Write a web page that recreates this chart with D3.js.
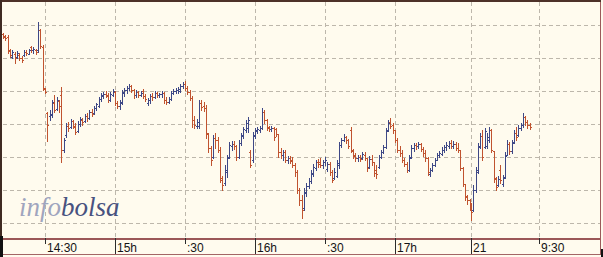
<!DOCTYPE html>
<html><head><meta charset="utf-8">
<script src="https://cdn.jsdelivr.net/npm/d3@7"></script>
<style>html,body{margin:0;padding:0;background:#fffbee;}svg{display:block}</style>
</head><body>
<svg id="c" width="603" height="257"></svg>
<script>
// sessions: consecutive 1-minute bars
const sessionDays = [0, 1];
const sessionStarts = ["14:12", "09:00"];
const sessionCounts = [201, 27];

const openV = [
206,204,203,189,183,186,183,185,182,185,188,186,193,190,190,190,210,193,151,127,
124,125,137,131,139,145,90,105,114,113,119,113,109,116,120,119,124,122,128,127,
132,134,141,144,146,145,140,145,148,137,134,137,147,150,152,154,150,145,148,145,
149,144,137,140,144,143,147,145,146,147,140,138,141,147,149,150,149,154,156,152,
148,142,120,114,114,137,134,132,106,92,83,102,100,90,60,57,68,83,94,96,
94,83,97,104,110,112,88,80,104,109,110,112,128,120,112,111,112,111,106,88,
85,88,80,82,80,75,68,50,40,32,47,54,59,66,72,78,78,75,78,71,
76,68,62,64,75,95,100,103,100,110,89,85,82,83,82,85,82,73,81,78,
70,73,83,88,93,110,118,115,110,100,90,87,80,76,70,83,92,95,94,96,
91,87,82,66,70,75,80,85,86,90,93,94,97,94,96,92,90,72,56,43,
40,
36,30,50,68,93,104,93,94,100,110,89,61,55,70,56,63,85,96,89,98,107,105,112,115,123,118,115];

const highV = [
207,205,205,191,190,188,189,187,184,190,190,191,194,193,191,218,211,195,152,128,
130,140,145,143,140,153,102,117,118,121,120,117,119,123,122,126,127,130,131,134,
137,143,147,148,149,147,148,151,149,139,140,150,152,154,156,155,151,150,149,149,
151,146,142,146,147,149,148,147,149,148,143,143,149,151,152,153,156,158,159,154,
150,144,124,121,140,140,138,135,107,94,105,107,103,93,64,75,85,98,99,99,
95,100,107,113,120,123,90,108,112,113,114,132,130,121,114,114,113,112,106,92,
90,90,84,84,83,77,70,52,45,52,57,62,70,76,80,81,82,80,83,78,
78,70,72,80,98,102,106,104,101,113,91,87,85,85,88,88,82,84,85,78,
75,85,90,95,112,120,122,117,110,102,94,90,82,78,85,95,97,97,98,97,
93,90,83,72,77,82,87,89,93,95,98,99,100,99,98,97,90,73,56,45,
41,
37,55,73,97,107,110,112,107,113,111,89,63,64,75,65,88,100,98,100,110,113,115,117,127,124,120,117];

const lowV = [
202,200,187,183,182,177,182,180,178,184,185,186,188,187,186,188,192,150,147,99,
120,123,128,130,128,78,88,103,109,112,112,106,108,114,115,118,119,121,124,126,
130,133,139,142,143,138,139,144,135,132,131,136,144,147,150,148,142,143,143,144,
142,139,135,137,140,142,143,143,143,137,136,137,140,146,147,147,148,152,150,146,
140,113,112,112,112,130,129,102,88,75,82,92,88,58,50,55,63,82,90,91,
80,82,95,102,108,108,73,78,102,107,108,111,117,110,109,109,100,104,83,82,
80,78,77,77,73,64,47,35,22,30,44,52,57,64,70,73,73,72,75,69,
65,58,61,63,72,93,99,97,92,88,82,79,79,79,81,80,69,72,75,64,
62,72,82,87,92,109,112,107,98,88,84,78,74,68,69,82,89,91,92,89,
84,79,65,64,69,74,80,83,85,88,90,92,92,92,90,88,70,54,40,36,
30,
20,29,48,67,92,80,92,92,98,88,58,50,54,57,54,62,85,86,87,97,100,104,110,113,115,112,111];

const closeV = [
203,202,190,185,188,182,187,182,180,188,187,190,190,191,188,210,194,152,148,115,
126,138,130,140,134,90,100,114,112,119,114,108,116,121,118,124,122,128,126,132,
136,141,145,146,144,140,146,149,137,134,138,148,150,152,154,150,145,148,145,147,
144,141,140,144,143,147,145,146,147,140,138,141,147,149,150,151,154,156,152,148,
142,120,115,118,137,133,132,107,92,80,102,100,90,62,55,70,82,95,96,94,
83,97,105,111,117,120,75,105,110,111,112,128,120,113,111,112,103,106,88,85,
88,80,82,79,75,68,50,40,30,48,54,59,67,73,78,76,75,78,80,76,
68,60,68,77,95,100,103,100,94,90,84,82,83,81,86,82,72,81,78,67,
66,83,88,93,109,117,114,110,100,90,87,80,76,70,82,92,95,94,96,91,
87,82,68,70,75,80,85,87,90,93,95,97,94,96,92,90,72,56,44,40,
33,
28,50,70,94,104,83,109,103,110,90,62,53,61,60,62,84,96,89,97,107,103,112,115,123,118,115,113];

const gridValues = [17, 50, 83, 116, 149, 182, 215];
const tickTimes  = ["14:30","15:00","15:30","16:00","16:30","17:00","09:00","09:30"];
const tickDays   = [0,0,0,0,0,0,1,1];
const tickLabels = ["14:30","15h",":30","16h",":30","17h","21","9:30"];
const tickMajor  = [false,true,false,true,false,true,true,false];

const W = 603, H = 257;
const UP = "#3e4886", DOWN = "#c0532f";
const toMin = (s, d) => { const [h, m] = s.split(":").map(Number); return d * 1440 + h * 60 + m; };

const bars = [];
let k = 0;
sessionDays.forEach((d, si) => {
  const t0 = toMin(sessionStarts[si], d);
  for (let j = 0; j < sessionCounts[si]; j++, k++) {
    bars.push({ t: t0 + j, o: openV[k], h: highV[k], l: lowV[k], c: closeV[k] });
  }
});

const x = d3.scaleLinear().domain([870, 1052, 1980, 2010]).range([45, 469.7, 471, 538.5]);
const y = d3.scaleLinear().domain([0, 240]).range([240, 0]);

const svg = d3.select("#c").attr("shape-rendering", "crispEdges");
svg.append("rect").attr("width", W).attr("height", H).attr("fill", "#fffbee");

// grid
const g = svg.append("g");
g.selectAll(".hg").data(gridValues).join("line")
  .attr("x1", 3).attr("x2", 600)
  .attr("y1", d => Math.round(y(d)) + 0.5).attr("y2", d => Math.round(y(d)) + 0.5)
  .attr("stroke", "#bdb7ab").attr("stroke-dasharray", "4,3");
const ticks = tickTimes.map((t, i) => ({ t: toMin(t, tickDays[i]), label: tickLabels[i], major: tickMajor[i] }));
g.selectAll(".vg").data(ticks).join("line")
  .attr("x1", d => Math.round(x(d.t)) + 0.5).attr("x2", d => Math.round(x(d.t)) + 0.5)
  .attr("y1", 2).attr("y2", 238)
  .attr("stroke", "#bdb7ab").attr("stroke-dasharray", "4,3");

// watermark
const wm = svg.append("text").attr("x", 19).attr("y", 216)
  .attr("font-family", "'Liberation Serif', 'DejaVu Serif', serif")
  .attr("font-style", "italic").attr("font-size", 27)
  .attr("shape-rendering", "auto");
wm.append("tspan").attr("fill", "#a0a5be").text("info");
wm.append("tspan").attr("fill", "#48527f").text("bolsa");

// OHLC bars
const bg = svg.append("g");
bars.forEach(b => {
  const bx = Math.round(x(b.t));
  const col = b.c >= b.o ? UP : DOWN;
  const yh = Math.round(y(b.h)), yl = Math.round(y(b.l));
  bg.append("rect").attr("x", bx).attr("y", yh).attr("width", 1).attr("height", Math.max(1, yl - yh + 1)).attr("fill", col);
  bg.append("rect").attr("x", bx - 1).attr("y", Math.round(y(b.o))).attr("width", 1).attr("height", 1).attr("fill", col);
  bg.append("rect").attr("x", bx + 1).attr("y", Math.round(y(b.c))).attr("width", 1).attr("height", 1).attr("fill", col);
});

// axis area & borders
svg.append("rect").attr("x", 2).attr("y", 238).attr("width", 599).attr("height", 2).attr("fill", "#9b5757");
svg.append("rect").attr("x", 2).attr("y", 254).attr("width", 599).attr("height", 1).attr("fill", "#a36565");
svg.append("rect").attr("x", 600).attr("y", 0).attr("width", 1).attr("height", 255).attr("fill", "#9b5a5a");
svg.append("rect").attr("x", 0).attr("y", 0).attr("width", 601).attr("height", 2).attr("fill", "#4d3128");
svg.append("rect").attr("x", 0).attr("y", 0).attr("width", 2).attr("height", 257).attr("fill", "#3f2a22");
svg.append("rect").attr("x", 0).attr("y", 236).attr("width", 3).attr("height", 21).attr("fill", "#111");
svg.append("rect").attr("x", 601).attr("y", 249).attr("width", 2).attr("height", 8).attr("fill", "#111");

// x ticks & labels
const ax = svg.append("g");
ax.selectAll("line").data(ticks).join("line")
  .attr("x1", d => Math.round(x(d.t)) + 0.5).attr("x2", d => Math.round(x(d.t)) + 0.5)
  .attr("y1", 238).attr("y2", d => d.major ? 254 : 244)
  .attr("stroke", "#2b2b2b");
ax.selectAll("text").data(ticks).join("text")
  .attr("x", d => Math.round(x(d.t)) + 2).attr("y", 252)
  .attr("font-family", "'Liberation Sans', Arial, sans-serif").attr("font-size", 12)
  .attr("fill", "#141414").attr("shape-rendering", "auto")
  .text(d => d.label);
</script>
</body></html>
